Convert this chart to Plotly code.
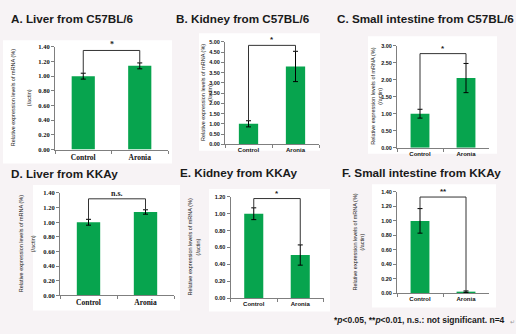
import plotly.graph_objects as go

W, H = 516, 334

# ---------------- data ----------------
categories = ["Control", "Aronia"]

panel_titles = [
    "A. Liver from C57BL/6",
    "B. Kidney from C57BL/6",
    "C. Small intestine from C57BL/6",
    "D. Liver from KKAy",
    "E. Kidney from KKAy",
    "F. Small intestine from KKAy",
]

liver_c57_mean = [1.00, 1.14]
liver_c57_err = [0.04, 0.04]
kidney_c57_mean = [1.00, 3.80]
kidney_c57_err = [0.15, 0.74]
intestine_c57_mean = [1.00, 2.05]
intestine_c57_err = [0.13, 0.43]
liver_kkay_mean = [1.00, 1.14]
liver_kkay_err = [0.04, 0.03]
kidney_kkay_mean = [1.00, 0.51]
kidney_kkay_err = [0.07, 0.12]
intestine_kkay_mean = [1.00, 0.02]
intestine_kkay_err = [0.17, 0.01]

bracket_levels = [1.35, 4.83, 2.77, 1.32, 1.18, 1.33]
sig_labels = ["*", "*", "*", "n.s.", "*", "**"]
y_max = [1.4, 5.0, 3.0, 1.4, 1.2, 1.4]
y_dtick = [0.2, 0.5, 0.5, 0.2, 0.2, 0.2]

y_title_1 = "Relative expression levels of mRNA (%)"
y_title_2 = "(/actin)"
footnote = "*<i>p</i><0.05, **<i>p</i><0.01, n.s.: not significant. n=4"

means = [liver_c57_mean, kidney_c57_mean, intestine_c57_mean,
         liver_kkay_mean, kidney_kkay_mean, intestine_kkay_mean]
errs = [liver_c57_err, kidney_c57_err, intestine_c57_err,
        liver_kkay_err, kidney_kkay_err, intestine_kkay_err]

# ---------------- layout (pixel geometry) ----------------
plot_px = [
    (55, 168, 43.7, 148.7),
    (225, 319, 38.7, 143.3),
    (397, 489, 42.7, 146.7),
    (60, 174, 193, 297.7),
    (230.5, 323.5, 197, 300.3),
    (397, 489, 192, 295.3),
]
title_px = [(9, 15), (174, 15), (335, 15), (9, 173), (178, 172), (340, 172)]
ytitle_px = [(13, 29), (203, 210), (373, 380), (21, 33), (190, 198), (355, 362)]
box_px = [
    (3, 37, 172, 163),
    (199, 30, 320, 150),
    (368, 33, 497, 153),
    (33, 185, 180, 313),
    (209, 189, 330, 314),
    (372, 184, 496, 310),
]
serif_panels = {0, 3}

def fx(px):
    return px / W

def fy(py):
    return 1 - py / H

GREEN = "#07a44e"
AXIS = "#7f7f7f"
BG = "#f7f3f5"

fig = go.Figure()
shapes = []
annotations = []

for i in range(6):
    xa = "x" if i == 0 else f"x{i+1}"
    ya = "y" if i == 0 else f"y{i+1}"
    xl, xr, yt, yb = plot_px[i]
    serif = i in serif_panels
    fam = "Liberation Serif" if serif else "Liberation Sans"

    fig.add_trace(go.Bar(
        x=categories, y=means[i], xaxis=xa, yaxis=ya,
        marker=dict(color=GREEN, line=dict(width=0)),
        error_y=dict(type="data", array=errs[i], color="black",
                     thickness=1, width=2.5),
        showlegend=False, hoverinfo="skip",
    ))
    c_top = means[i][0] + errs[i][0]
    a_top = means[i][1] + errs[i][1]
    lv = bracket_levels[i]
    fig.add_trace(go.Scatter(
        x=[categories[0], categories[0], categories[1], categories[1]],
        y=[c_top, lv, lv, a_top], xaxis=xa, yaxis=ya,
        mode="lines", line=dict(color="#333333", width=1),
        showlegend=False, hoverinfo="skip",
    ))
    annotations.append(dict(
        xref=xa, yref=ya, x=0.5, y=lv, text=sig_labels[i],
        showarrow=False, yanchor="bottom", yshift=-1,
        font=dict(family=fam, size=8, color="#222222", weight="bold"),
    ))

    axkey_x = "xaxis" if i == 0 else f"xaxis{i+1}"
    axkey_y = "yaxis" if i == 0 else f"yaxis{i+1}"
    fig.layout[axkey_x] = dict(
        domain=[fx(xl), fx(xr)], anchor=ya, type="category",
        range=[-0.5, 1.5], showline=True, linecolor=AXIS, linewidth=1,
        ticks="outside", tickson="boundaries", ticklen=3, tickcolor=AXIS,
        showgrid=False, zeroline=False, fixedrange=True,
        tickfont=dict(family=fam, size=7.5 if serif else 6,
                      color="#111111", weight="bold"),
    )
    fig.layout[axkey_y] = dict(
        domain=[fy(yb), fy(yt)], anchor=xa, range=[0, y_max[i]],
        dtick=y_dtick[i], tick0=0, tickformat=".2f",
        showline=True, linecolor=AXIS, linewidth=1,
        ticks="outside", ticklen=3, tickcolor=AXIS,
        showgrid=False, zeroline=False, fixedrange=True,
        tickfont=dict(family=fam, size=6.5 if serif else 5.5,
                      color="#111111", weight="bold"),
    )

    bx0, by0, bx1, by1 = box_px[i]
    shapes.append(dict(type="rect", xref="paper", yref="paper",
                       x0=fx(bx0), x1=fx(bx1), y0=fy(by1), y1=fy(by0),
                       fillcolor="white", line=dict(width=0), layer="below"))

    tx, ty = title_px[i]
    annotations.append(dict(
        xref="paper", yref="paper", x=fx(tx), y=fy(ty), text=panel_titles[i],
        showarrow=False, xanchor="left", yanchor="middle",
        font=dict(family="Liberation Sans", size=11.7, color="#1a1a1a",
                  weight="bold"),
    ))
    ymid = (yt + yb) / 2
    for text, px_ in zip([y_title_1, y_title_2], ytitle_px[i]):
        annotations.append(dict(
            xref="paper", yref="paper", x=fx(px_), y=fy(ymid), text=text,
            showarrow=False, textangle=-90, xanchor="center", yanchor="middle",
            font=dict(family="Liberation Sans", size=5.5, color="#222222"),
        ))

annotations.append(dict(
    xref="paper", yref="paper", x=fx(507), y=fy(323), text=footnote,
    showarrow=False, xanchor="right", yanchor="middle",
    font=dict(family="Liberation Sans", size=8.5, color="#1a1a1a",
              weight="bold"),
))
annotations.append(dict(
    xref="paper", yref="paper", x=fx(512), y=fy(324), text="↵",
    showarrow=False, xanchor="center", yanchor="middle",
    font=dict(family="DejaVu Sans", size=6, color="#999999"),
))

fig.update_layout(
    width=W, height=H, margin=dict(l=0, r=0, t=0, b=0),
    paper_bgcolor=BG, plot_bgcolor="rgba(0,0,0,0)",
    bargap=0.59, shapes=shapes, annotations=annotations,
)

fig.write_html("out.html", config={"displayModeBar": False})
